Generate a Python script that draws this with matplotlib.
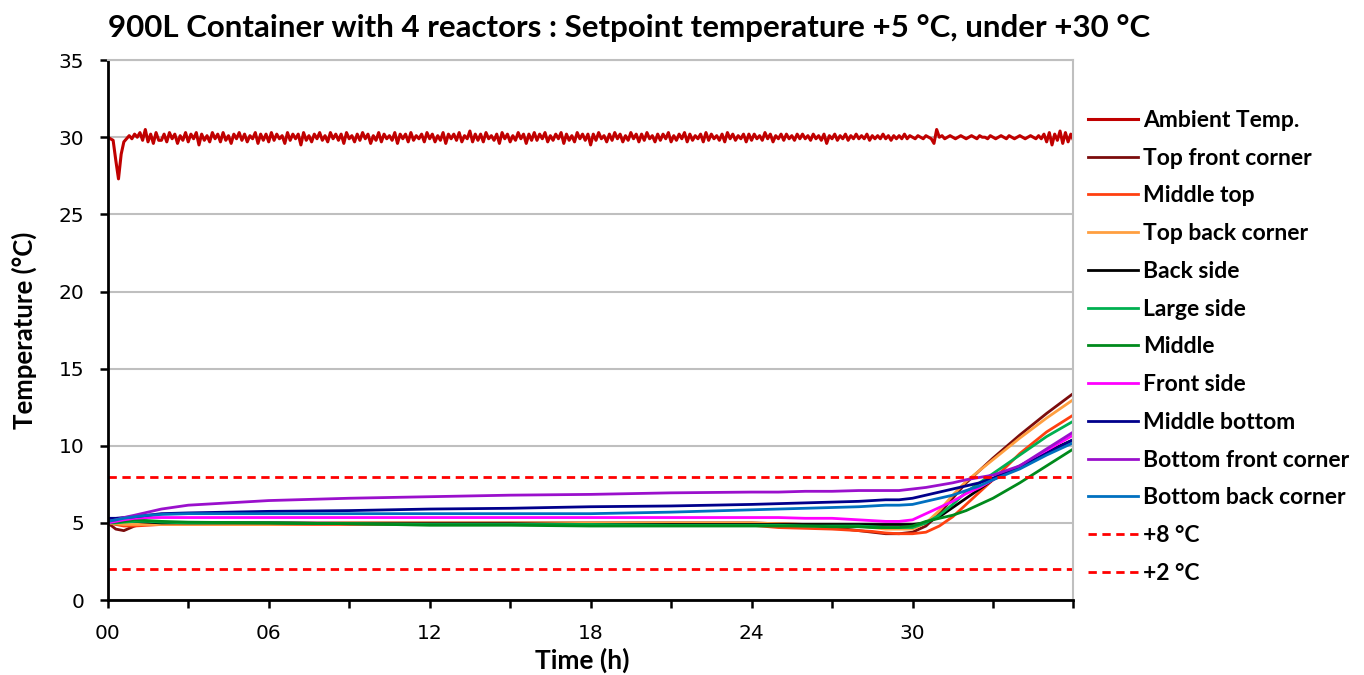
import matplotlib
matplotlib.use("Agg")
import matplotlib.pyplot as plt

plt.rcParams["font.family"] = ["Lato", "DejaVu Sans"]

# ambient temperature, one reading every 0.1 h from 0 to 36 h
AMB_STEP = 0.1
ambient = [
    30.0, 29.9, 29.8, 28.5, 27.3, 28.9, 29.7, 29.9, 30.1, 29.9, 30.2, 30.0, 30.3, 29.8, 30.5, 29.7, 30.2, 29.6, 30.3, 29.8,
    29.8, 30.2, 29.7, 30.3, 29.9, 30.2, 29.6, 30.1, 29.8, 30.3, 29.7, 30.2, 29.9, 30.3, 29.5, 30.2, 29.8, 30.1, 29.7, 30.3,
    29.9, 30.2, 29.7, 30.3, 29.8, 30.1, 29.6, 30.2, 29.9, 30.3, 29.8, 30.2, 29.7, 30.1, 29.9, 30.3, 29.6, 30.2, 29.8, 30.2,
    29.7, 30.3, 29.8, 30.2, 29.9, 30.1, 29.6, 30.3, 29.8, 30.2, 29.9, 30.2, 29.5, 30.3, 29.8, 30.1, 29.7, 30.2, 29.9, 30.3,
    29.8, 30.1, 29.7, 30.3, 29.9, 30.2, 29.8, 30.2, 29.6, 30.3, 29.9, 30.1, 29.7, 30.2, 29.8, 30.3, 29.9, 30.2, 29.6, 30.1,
    29.8, 30.3, 29.7, 30.2, 29.9, 30.1, 29.8, 30.3, 29.6, 30.2, 29.9, 30.2, 29.7, 30.3, 29.8, 30.1, 29.9, 30.2, 29.7, 30.3,
    29.9, 30.2, 29.7, 30.1, 29.8, 30.3, 29.6, 30.2, 29.9, 30.2, 29.8, 30.3, 29.7, 30.1, 29.9, 30.4, 29.7, 30.2, 29.8, 30.2,
    29.7, 30.3, 29.9, 30.1, 29.8, 30.2, 29.6, 30.3, 29.9, 30.2, 29.7, 30.1, 29.8, 30.3, 29.9, 30.2, 29.6, 30.2, 29.8, 30.3,
    29.8, 30.2, 29.9, 30.3, 29.7, 30.1, 29.8, 30.2, 29.9, 30.3, 29.6, 30.2, 29.8, 30.1, 29.7, 30.3, 29.9, 30.2, 29.8, 30.2,
    29.5, 30.2, 29.8, 30.3, 29.9, 30.1, 29.7, 30.2, 29.8, 30.3, 29.9, 30.2, 29.7, 30.1, 29.8, 30.3, 29.9, 30.2, 29.7, 30.2,
    29.8, 30.3, 29.9, 30.1, 29.7, 30.2, 29.8, 30.2, 29.9, 30.3, 29.7, 30.1, 29.8, 30.2, 29.9, 30.3, 29.7, 30.2, 29.8, 30.1,
    29.9, 30.2, 29.7, 30.3, 29.8, 30.2, 29.9, 30.1, 29.8, 30.2, 29.7, 30.3, 29.9, 30.2, 29.8, 30.1, 29.9, 30.2, 29.7, 30.2,
    29.8, 30.2, 29.9, 30.1, 29.8, 30.3, 29.9, 30.2, 29.7, 30.1, 29.9, 30.2, 29.8, 30.2, 29.9, 30.1, 29.8, 30.2, 29.9, 30.2,
    29.9, 30.1, 29.8, 30.2, 29.9, 30.1, 29.8, 30.2, 29.6, 30.1, 29.9, 30.2, 29.8, 30.1, 29.9, 30.2, 29.8, 30.1, 29.9, 30.2,
    29.9, 30.1, 29.9, 30.2, 29.8, 30.1, 29.9, 30.1, 29.9, 30.2, 29.9, 30.1, 29.8, 30.1, 29.9, 30.1, 29.9, 30.2, 29.9, 30.1,
    30.0, 29.9, 30.1, 30.0, 29.9, 30.1, 30.0, 29.9, 29.6, 30.5, 30.0, 30.1, 29.9, 30.0, 30.1, 30.0, 29.9, 30.0, 30.1, 30.0,
    29.9, 30.0, 30.1, 30.0, 29.9, 30.1, 30.0, 30.0, 29.9, 30.1, 30.0, 29.9, 30.0, 30.1, 30.0, 29.9, 30.1, 30.0, 29.9, 30.0,
    30.1, 30.0, 29.9, 30.0, 30.1, 30.0, 29.9, 30.1, 29.9, 30.2, 29.7, 30.3, 29.5, 30.2, 29.8, 30.4, 29.6, 30.3, 29.7, 30.2,
    29.8,
]
amb_time = [i * AMB_STEP for i in range(len(ambient))]

# sensor readings (h, degC)
time_h = [0, 0.3, 0.6, 1, 1.5, 2, 3, 6, 9, 12, 15, 18, 21, 24, 25, 26, 27, 28,
          28.5, 29, 29.5, 30, 30.5, 31, 31.5, 32, 32.5, 33, 34, 35, 36]

top_front = [5.0, 4.6, 4.5, 4.8, 5.0, 5.0, 5.0, 5.0, 5.0, 5.0, 5.0, 5.0, 5.0, 5.0, 4.95, 4.9,
             4.7, 4.5, 4.4, 4.3, 4.3, 4.4, 4.8, 5.6, 6.6, 7.6, 8.4, 9.2, 10.7, 12.1, 13.4]
middle_top = [5.0, 4.9, 4.8, 4.8, 4.85, 4.9, 4.9, 4.9, 4.9, 4.9, 4.9, 4.9, 4.9, 4.85, 4.7, 4.65,
              4.6, 4.5, 4.45, 4.35, 4.3, 4.3, 4.4, 4.8, 5.4, 6.2, 7.0, 7.8, 9.5, 10.9, 12.0]
top_back = [5.0, 4.95, 4.9, 4.9, 4.9, 4.9, 4.9, 4.9, 5.0, 5.0, 5.0, 5.0, 5.0, 5.0, 4.95, 4.9,
            4.9, 4.8, 4.7, 4.6, 4.6, 4.6, 5.0, 5.8, 6.8, 7.7, 8.4, 9.1, 10.5, 11.8, 13.0]
back_side = [5.2, 5.2, 5.15, 5.1, 5.05, 5.0, 5.0, 5.0, 4.95, 4.95, 4.95, 4.9, 4.9, 4.9, 4.9, 4.9,
             4.9, 4.9, 4.9, 4.9, 4.9, 4.9, 5.0, 5.4, 6.0, 6.6, 7.2, 7.8, 8.7, 9.6, 10.4]
large_side = [5.0, 5.0, 5.05, 5.1, 5.1, 5.05, 5.0, 5.0, 4.95, 4.9, 4.9, 4.9, 4.85, 4.85, 4.85, 4.8,
              4.8, 4.8, 4.75, 4.7, 4.7, 4.7, 5.0, 5.5, 6.2, 7.0, 7.6, 8.2, 9.4, 10.6, 11.6]
middle = [5.0, 5.05, 5.1, 5.2, 5.15, 5.1, 5.05, 5.0, 4.95, 4.85, 4.85, 4.8, 4.8, 4.8, 4.8, 4.8,
          4.75, 4.75, 4.7, 4.7, 4.7, 4.8, 5.1, 5.3, 5.5, 5.8, 6.2, 6.6, 7.6, 8.7, 9.8]
front_side = [5.0, 5.1, 5.2, 5.3, 5.35, 5.35, 5.35, 5.35, 5.35, 5.35, 5.35, 5.35, 5.35, 5.35, 5.35, 5.3,
              5.3, 5.2, 5.15, 5.1, 5.1, 5.2, 5.6, 6.0, 6.4, 6.9, 7.3, 7.8, 8.7, 9.7, 10.7]
middle_bottom = [5.3, 5.3, 5.35, 5.4, 5.5, 5.6, 5.65, 5.75, 5.8, 5.9, 5.95, 6.05, 6.1, 6.2, 6.25, 6.3,
                 6.35, 6.4, 6.45, 6.5, 6.5, 6.6, 6.8, 7.0, 7.2, 7.4, 7.6, 7.9, 8.6, 9.5, 10.4]
bottom_front = [5.1, 5.2, 5.35, 5.5, 5.7, 5.9, 6.15, 6.45, 6.6, 6.7, 6.8, 6.85, 6.95, 7.0, 7.0, 7.05,
                7.05, 7.1, 7.1, 7.1, 7.1, 7.2, 7.3, 7.45, 7.6, 7.8, 7.95, 8.1, 8.7, 9.8, 10.9]
bottom_back = [5.1, 5.2, 5.3, 5.4, 5.5, 5.55, 5.6, 5.6, 5.6, 5.6, 5.6, 5.6, 5.7, 5.85, 5.9, 5.95,
               6.0, 6.05, 6.1, 6.15, 6.15, 6.2, 6.4, 6.6, 6.8, 7.1, 7.4, 7.8, 8.5, 9.4, 10.2]

sensors = [
    ("Top front corner", top_front, "#7B0C0C"),
    ("Middle top", middle_top, "#FF4010"),
    ("Top back corner", top_back, "#FF9F40"),
    ("Back side", back_side, "#000000"),
    ("Large side", large_side, "#00B050"),
    ("Middle", middle, "#008A1C"),
    ("Front side", front_side, "#FF00FF"),
    ("Middle bottom", middle_bottom, "#00008B"),
    ("Bottom front corner", bottom_front, "#9A10CC"),
    ("Bottom back corner", bottom_back, "#0070C0"),
]

limits = [("+8 °C", 8), ("+2 °C", 2)]

x_ticks = [0, 3, 6, 9, 12, 15, 18, 21, 24, 27, 30, 33, 36]
x_labels = ["00", "", "06", "", "12", "", "18", "", "24", "", "30", "", ""]


def main():
    fig = plt.figure(figsize=(13.64, 6.75), dpi=100)
    ax = fig.add_axes([0.079, 0.111, 0.708, 0.800])

    ax.plot(amb_time, ambient, color="#C00000", lw=2.2, label="Ambient Temp.")
    for name, vals, col in sensors:
        ax.plot(time_h, vals, color=col, lw=2, label=name)
    for name, val in limits:
        ax.axhline(val, color="#FF0000", lw=2, ls=(0, (3, 2)), label=name)

    ax.set_xlim(0, 36)
    ax.set_ylim(0, 35)
    ax.set_yticks(range(0, 36, 5))
    ax.set_xticks(x_ticks)
    ax.set_xticklabels(x_labels)
    ax.tick_params(axis="both", direction="out", length=6, width=1.8, pad=11,
                   labelsize=14.5, labelfontfamily="DejaVu Sans")
    ax.yaxis.grid(True, color="#BFBFBF", lw=1.5)
    ax.set_axisbelow(True)

    for side in ("left", "bottom"):
        ax.spines[side].set_linewidth(2)
        ax.spines[side].set_color("black")
    for side in ("right", "top"):
        ax.spines[side].set_color("#BFBFBF")
        ax.spines[side].set_linewidth(1.5)

    ax.set_xlabel("Time (h)", fontsize=19, fontweight="bold", labelpad=0)
    ax.xaxis.set_label_coords(0.491, -0.088)
    ax.set_ylabel("Temperature (°C)", fontsize=18.5, fontweight="bold")
    ax.yaxis.set_label_coords(-0.0735, 0.5)
    fig.text(0.079, 0.959, "900L Container with 4 reactors : Setpoint temperature +5 °C, under +30 °C",
             fontsize=22.5, fontweight="bold", ha="left", va="center")

    leg = ax.legend(loc="upper left", bbox_to_anchor=(1088 / 1364, 1 - 110 / 675),
                    bbox_transform=fig.transFigure, frameon=False, fontsize=16.5,
                    handlelength=2.2, handletextpad=0.2, labelspacing=0.73, borderpad=0,
                    borderaxespad=0)
    for t in leg.get_texts():
        t.set_fontweight("bold")

    fig.savefig("out.png", dpi=100)
    plt.close(fig)


if __name__ == "__main__":
    main()
